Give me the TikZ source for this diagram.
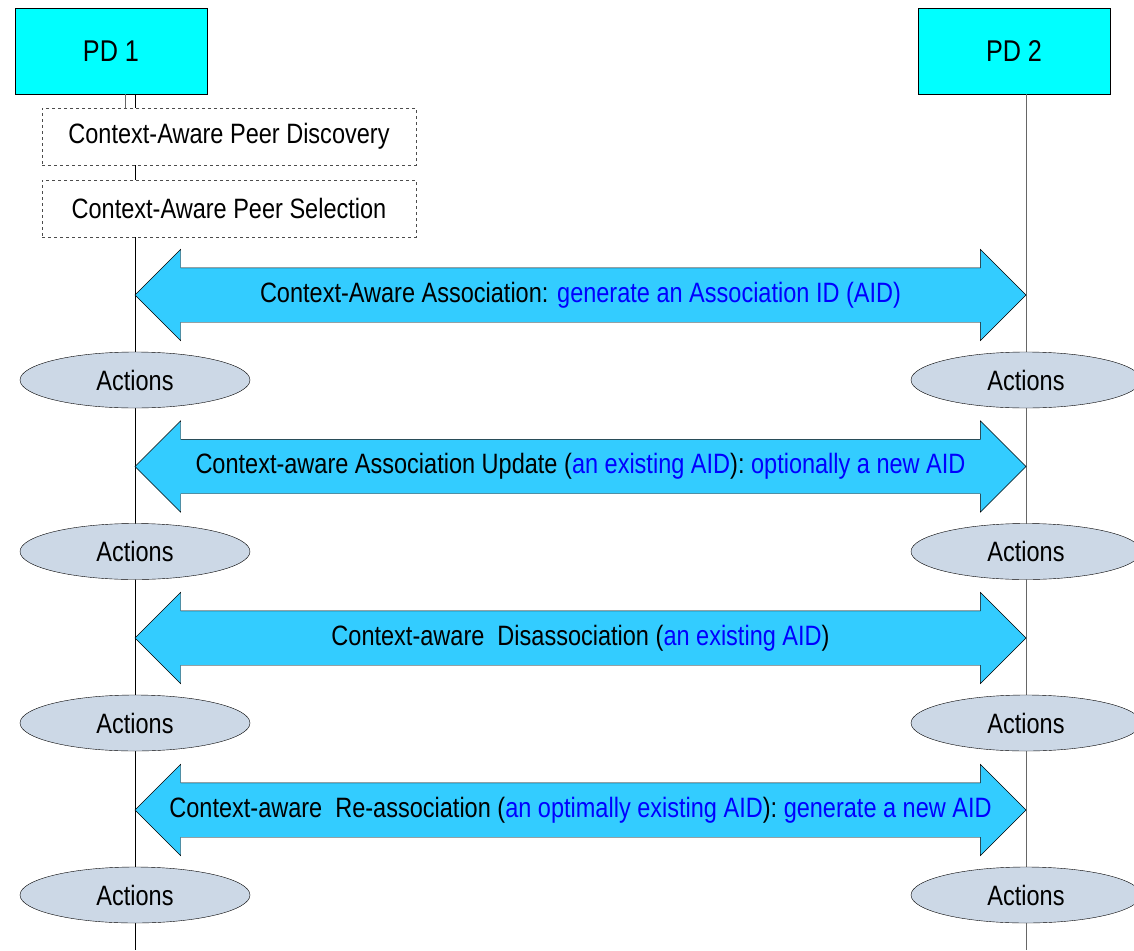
\documentclass[tikz,border=0pt]{standalone}
\usepackage{fontspec}
\setmainfont[FakeStretch=0.84]{Liberation Sans}
\usetikzlibrary{shapes,positioning,calc}
\definecolor{pdcyan}{RGB}{0,255,255}
\definecolor{msgblue}{RGB}{51,204,255}
\definecolor{actgray}{RGB}{204,216,230}
\definecolor{aidblue}{RGB}{0,0,255}
\newcommand{\aid}[1]{\textcolor{aidblue}{#1}}

\begin{document}
\begin{tikzpicture}[x=1pt,y=-1pt,
		device/.style = {
			rectangle,minimum width=192pt,minimum height=86pt,
			draw=black,fill=pdcyan,
			font=\fontsize{30}{34}\selectfont
		},
		phase/.style = {
			rectangle,minimum width=374pt,minimum height=57pt,
			draw=black!70,dashed,fill=white,
			font=\fontsize{28}{32}\selectfont
		},
		exchange/.style = {
			double arrow,double arrow head extend=18.5pt,
			minimum height=891pt,minimum width=91pt,inner ysep=14pt,
			text height=20pt,text depth=6pt,
			draw=black,fill=msgblue,
			font=\fontsize{28}{32}\selectfont
		},
		actions/.style = {
			ellipse,minimum width=230pt,minimum height=56pt,inner sep=0pt,
			draw=black,fill=actgray,
			font=\fontsize{28}{32}\selectfont
		}]
		\useasboundingbox (0,0) rectangle (1134,950);
		\node    [device]	(pd1)	at (111,51)	{PD 1};
		\node    [device]	(pd2)	at (1014,51)	{PD 2};
		\coordinate (life1) at ([xshift=24pt]pd1.south);
		\coordinate (life2) at ([xshift=12pt]pd2.south);
		\coordinate (end1) at (life1 |- 0,950);
		\coordinate (end2) at (life2 |- 0,950);
		\draw (life1) -- (end1);
		\draw [black!60] (life2) -- (end2);
		\node    [phase]	(discovery)	at (229,136.5)	{Context-Aware Peer Discovery};
		\node    [phase]	(selection)	at (229,208.5)	{Context-Aware Peer Selection};
		\draw [black!60] ([xshift=-10pt]life1) -- ([xshift=-10pt]life1 |- discovery.north);
		\node    [exchange]	(assoc)		at (580.5,295)	{Context-Aware Association: \aid{generate an Association ID (AID)}};
		\node    [exchange]	(update)	at (580.5,466.5)	{Context-aware Association Update (\aid{an existing AID}): \aid{optionally a new AID}};
		\node    [exchange]	(disassoc)	at (580.5,638)	{Context-aware\ \ Disassociation (\aid{an existing AID})};
		\node    [exchange]	(reassoc)	at (580.5,810)	{Context-aware\ \ Re-association (\aid{an optimally existing AID}): \aid{generate a new AID}};
		\foreach \y [count=\i] in {380,551.5,723,895} {
			\node    [actions]	(actL\i)	at (life1 |- 0,\y)	{Actions};
			\node    [actions]	(actR\i)	at (life2 |- 0,\y)	{Actions};
		}
\end{tikzpicture}
\end{document}
